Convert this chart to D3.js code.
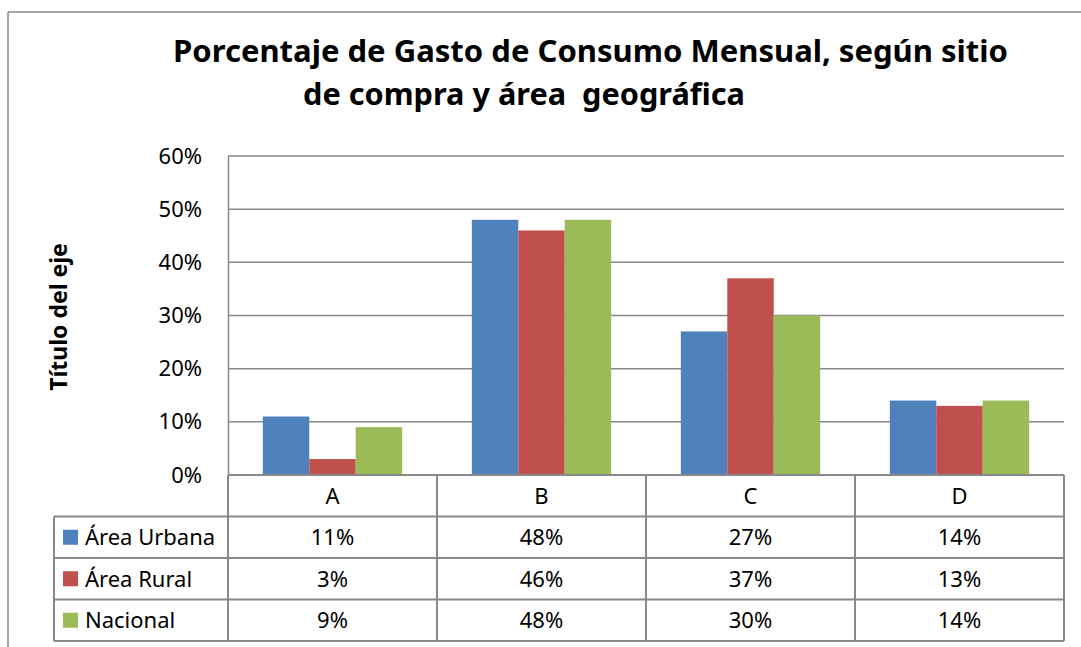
<!DOCTYPE html>
<html>
<head>
<meta charset="utf-8">
<script src="https://cdn.jsdelivr.net/npm/d3@7"></script>
<style>
  body { margin: 0; background: #fff; }
  svg { display: block; font-family: "Noto Sans", sans-serif; }
</style>
</head>
<body>
<svg width="1081" height="647"></svg>
<script>
// data
var categories = ["A", "B", "C", "D"];
var seriesNames = ["Área Urbana", "Área Rural", "Nacional"];
var urbana = [0.11, 0.48, 0.27, 0.14];
var rural = [0.03, 0.46, 0.37, 0.13];
var nacional = [0.09, 0.48, 0.30, 0.14];
var yTicks = [0, 0.1, 0.2, 0.3, 0.4, 0.5, 0.6];
var colors = ["#4f81bd", "#c0504d", "#9bbb59"];

var seriesValues = [urbana, rural, nacional];

var svg = d3.select("svg");
var lineCol = "#898989";

var plotLeft = 228, plotRight = 1064, plotTop = 156, base = 475;
var rowH = 41.5;

var x = d3.scaleBand().domain(categories).range([plotLeft, plotRight]).padding(0);
var step = x.bandwidth();
var x1 = d3.scaleBand().domain(seriesNames).range([step / 6, step * 5 / 6]).padding(0);
var y = d3.scaleLinear().domain([0, 0.6]).range([base, plotTop]);

// chart frame (left + top edges only visible)
svg.append("line").attr("x1", 8).attr("x2", 8).attr("y1", 12).attr("y2", 647)
  .attr("stroke", lineCol).attr("stroke-width", 1.5);
svg.append("line").attr("x1", 8).attr("x2", 1081).attr("y1", 12).attr("y2", 12)
  .attr("stroke", lineCol).attr("stroke-width", 1.5);

// title
var title = svg.append("text").attr("font-weight", "bold").attr("font-size", 31).attr("fill", "#000");
title.append("tspan").attr("x", 173).attr("y", 62)
  .attr("textLength", 835).attr("lengthAdjust", "spacingAndGlyphs")
  .text("Porcentaje de Gasto de Consumo Mensual, según sitio");
title.append("tspan").attr("x", 303).attr("y", 105)
  .attr("textLength", 442).attr("lengthAdjust", "spacingAndGlyphs")
  .attr("xml:space", "preserve")
  .text("de compra y área  geográfica");

// gridlines
svg.append("g").selectAll("line").data(yTicks.slice(1)).join("line")
  .attr("x1", plotLeft).attr("x2", plotRight)
  .attr("y1", function(d) { return y(d); }).attr("y2", function(d) { return y(d); })
  .attr("stroke", lineCol).attr("stroke-width", 1.5);

// y axis
var yAxis = svg.append("g").attr("transform", "translate(" + plotLeft + ",0)")
  .call(d3.axisLeft(y).tickValues(yTicks).tickFormat(d3.format(".0%")).tickSize(0).tickPadding(26));
yAxis.select(".domain").attr("stroke", lineCol).attr("stroke-width", 1.5);
yAxis.selectAll("text").attr("font-size", 22).attr("fill", "#000")
  .attr("font-family", "Noto Sans, sans-serif");

// axis title
svg.append("text")
  .attr("transform", "translate(67,317) rotate(-90)")
  .attr("text-anchor", "middle")
  .attr("font-weight", "bold").attr("font-size", 23)
  .text("Título del eje");

// bars
var groups = svg.append("g").selectAll("g").data(categories).join("g")
  .attr("transform", function(d) { return "translate(" + x(d) + ",0)"; });
groups.selectAll("rect")
  .data(function(c, i) { return seriesNames.map(function(s, j) { return { s: s, v: seriesValues[j][i], j: j }; }); })
  .join("rect")
  .attr("x", function(d) { return x1(d.s); })
  .attr("width", x1.bandwidth())
  .attr("y", function(d) { return y(d.v); })
  .attr("height", function(d) { return base - y(d.v); })
  .attr("fill", function(d) { return colors[d.j]; });

// data table
var tbl = svg.append("g").attr("stroke", lineCol).attr("stroke-width", 2).attr("fill", "none");
var legendLeft = 54;
var tableBottom = base + rowH * 4;
tbl.append("line").attr("x1", plotLeft).attr("x2", plotRight).attr("y1", base).attr("y2", base);
[1, 2, 3, 4].forEach(function(r) {
  tbl.append("line").attr("x1", legendLeft).attr("x2", plotRight)
    .attr("y1", base + rowH * r).attr("y2", base + rowH * r);
});
tbl.append("line").attr("x1", legendLeft).attr("x2", legendLeft).attr("y1", base + rowH).attr("y2", tableBottom);
tbl.selectAll("line.v").data(categories).join("line").attr("class", "v")
  .attr("x1", function(d) { return x(d); }).attr("x2", function(d) { return x(d); })
  .attr("y1", base).attr("y2", tableBottom);
tbl.append("line").attr("x1", plotRight).attr("x2", plotRight).attr("y1", base).attr("y2", tableBottom);

// header
svg.append("g").selectAll("text").data(categories).join("text")
  .attr("x", function(d) { return x(d) + step / 2; })
  .attr("y", base + rowH / 2).attr("dy", "0.36em")
  .attr("text-anchor", "middle").attr("font-size", 22)
  .text(function(d) { return d; });

// rows
var fmt = d3.format(".0%");
seriesNames.forEach(function(s, j) {
  var cy = base + rowH * (j + 1) + rowH / 2;
  svg.append("rect").attr("x", 63).attr("y", cy - 7.5).attr("width", 15).attr("height", 15)
    .attr("fill", colors[j]);
  svg.append("text").attr("x", 85).attr("y", cy).attr("dy", "0.36em")
    .attr("font-size", 22).text(s);
  svg.append("g").selectAll("text").data(seriesValues[j]).join("text")
    .attr("x", function(d, i) { return x(categories[i]) + step / 2; })
    .attr("y", cy).attr("dy", "0.36em")
    .attr("text-anchor", "middle").attr("font-size", 22)
    .text(function(d) { return fmt(d); });
});
</script>
</body>
</html>
